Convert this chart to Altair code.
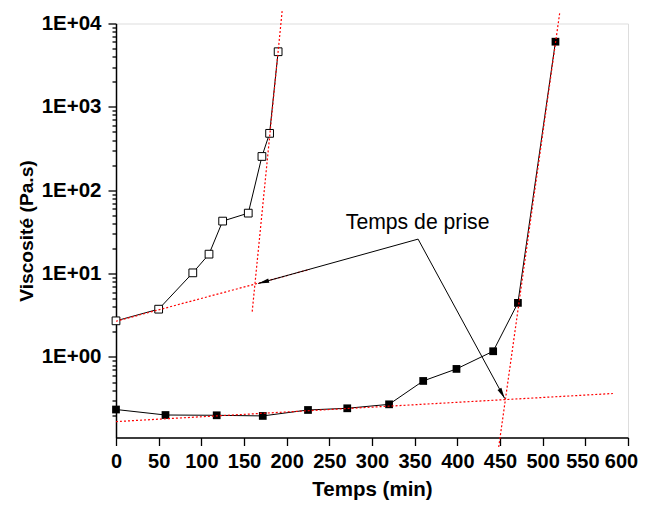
import altair as alt
import pandas as pd

# ---- data ----
# open squares series
t1 = [0, 50, 90, 109, 125, 155, 171, 180, 190]
v1 = [2.71, 3.74, 10.2, 17.1, 42.6, 53.1, 254, 481, 4585]
# filled squares series
t2 = [0, 58, 118, 172, 225, 271, 320, 360, 399, 442, 471, 515]
v2 = [0.234, 0.201, 0.1995, 0.196, 0.231, 0.242, 0.270, 0.515, 0.718, 1.17, 4.45, 6050]

# red dotted tangent lines (two end points each)
fit_id = ["a", "a", "b", "b", "c", "c", "d", "d"]
fit_t = [0, 227, 159.6, 194.7, 0, 582.3, 448.5, 519.9]
fit_v = [2.68, 11.2, 3.5, 14070, 0.1676, 0.364, 0.083, 13250]

# annotation
label_text = ["Temps de prise"]
label_t = [269.3]
label_v = [33.8]
arrow_id = ["g", "g", "d", "d"]
arrow_t = [354, 166.6, 354, 455.5]
arrow_v = [25.9, 7.6, 25.9, 0.317]
head_t = [166.6, 455.5]
head_v = [7.6, 0.317]
head_angle = [254.5, 151.5]

x_ticks = list(range(0, 601, 25))
y_ticks = [m * 10 ** e for e in range(-1, 4) for m in range(1, 10)
           if 0.108 <= m * 10 ** e <= 10000] + [10000]

FONT = "Liberation Sans"
POW10 = "abs(log(datum.value)/LN10 - round(log(datum.value)/LN10)) < 1e-6"

s1 = pd.DataFrame({"t": t1, "v": v1})
s2 = pd.DataFrame({"t": t2, "v": v2})
fits = pd.DataFrame({"id": fit_id, "t": fit_t, "v": fit_v})
arrows = pd.DataFrame({"id": arrow_id, "t": arrow_t, "v": arrow_v})
heads = pd.DataFrame({"t": head_t, "v": head_v, "a": head_angle})
label = pd.DataFrame({"txt": label_text, "t": label_t, "v": label_v})

xscale = alt.Scale(domain=[0, 600], nice=False, zero=False)
yscale = alt.Scale(type="log", domain=[0.108, 10000], nice=False)

xaxis = alt.Axis(
    values=x_ticks, format="d",
    labelExpr="datum.value % 50 == 0 ? datum.label : ''",
    tickSize={"condition": {"test": "datum.value % 50 == 0", "value": 8}, "value": 4},
    labelOffset={"expr": "datum.value == 600 ? -7 : (datum.value == 550 ? -3 : 0)"},
    labelFlush=False, labelOverlap=False, labelBound=False,
    labelFont=FONT, labelFontSize=20, labelFontWeight="bold", labelColor="black",
    labelPadding=6,
    title="Temps (min)", titleFont=FONT, titleFontSize=20.5, titleFontWeight="bold",
    titleColor="black", titlePadding=8,
    domainColor="black", domainWidth=1.5, tickColor="black", tickWidth=1.3,
    grid=False,
)
yaxis = alt.Axis(
    values=y_ticks,
    labelExpr="(" + POW10 + ") ? '1E+0' + round(log(datum.value)/LN10) : ''",
    tickSize={"condition": {"test": POW10, "value": 8}, "value": 4},
    labelFlush=False, labelOverlap=False, labelBound=False,
    labelFont=FONT, labelFontSize=20.5, labelFontWeight="bold", labelColor="black",
    labelPadding=7,
    title="Viscosité (Pa.s)", titleFont=FONT, titleFontSize=19.2, titleFontWeight="bold",
    titleColor="black", titlePadding=5,
    domainColor="black", domainWidth=1.5, tickColor="black", tickWidth=1.3,
    grid=False,
)

X = alt.X("t:Q", scale=xscale, axis=xaxis)
Y = alt.Y("v:Q", scale=yscale, axis=yaxis)
Xn = alt.X("t:Q", scale=xscale)
Yn = alt.Y("v:Q", scale=yscale)

line1 = alt.Chart(s1).mark_line(color="black", strokeWidth=1).encode(x=X, y=Y)
pts1 = alt.Chart(s1).mark_point(shape="square", filled=True, fill="white",
                                stroke="black", strokeWidth=1, size=60,
                                opacity=1).encode(x=Xn, y=Yn)
line2 = alt.Chart(s2).mark_line(color="black", strokeWidth=1).encode(x=Xn, y=Yn)
pts2 = alt.Chart(s2).mark_point(shape="square", filled=True, color="black",
                                size=60, opacity=1).encode(x=Xn, y=Yn)
fit = alt.Chart(fits).mark_line(color="red", strokeDash=[2, 2],
                                strokeWidth=1.2).encode(x=Xn, y=Yn, detail="id:N")
arr = alt.Chart(arrows).mark_line(color="black", strokeWidth=1).encode(
    x=Xn, y=Yn, detail="id:N")
hd = alt.Chart(heads).mark_point(shape="M0,0L0.4,2L-0.4,2Z", filled=True,
                                 color="black", size=121, opacity=1).encode(
    x=Xn, y=Yn, angle=alt.Angle("a:Q", scale=None))
txt = alt.Chart(label).mark_text(align="left", baseline="alphabetic", font=FONT,
                                 fontSize=21.2, color="black").encode(
    x=Xn, y=Yn, text="txt:N")

chart = alt.layer(line1, line2, pts1, pts2, fit, arr, hd, txt).properties(
    width=512, height=414,
    autosize=alt.AutoSizeParams(type="none"),
    padding={"left": 108, "top": 15.5, "right": 11, "bottom": 62.5},
).configure_view(stroke=None).configure(background="white")

chart.save("out.html", embed_options={"renderer": "svg", "actions": False})
